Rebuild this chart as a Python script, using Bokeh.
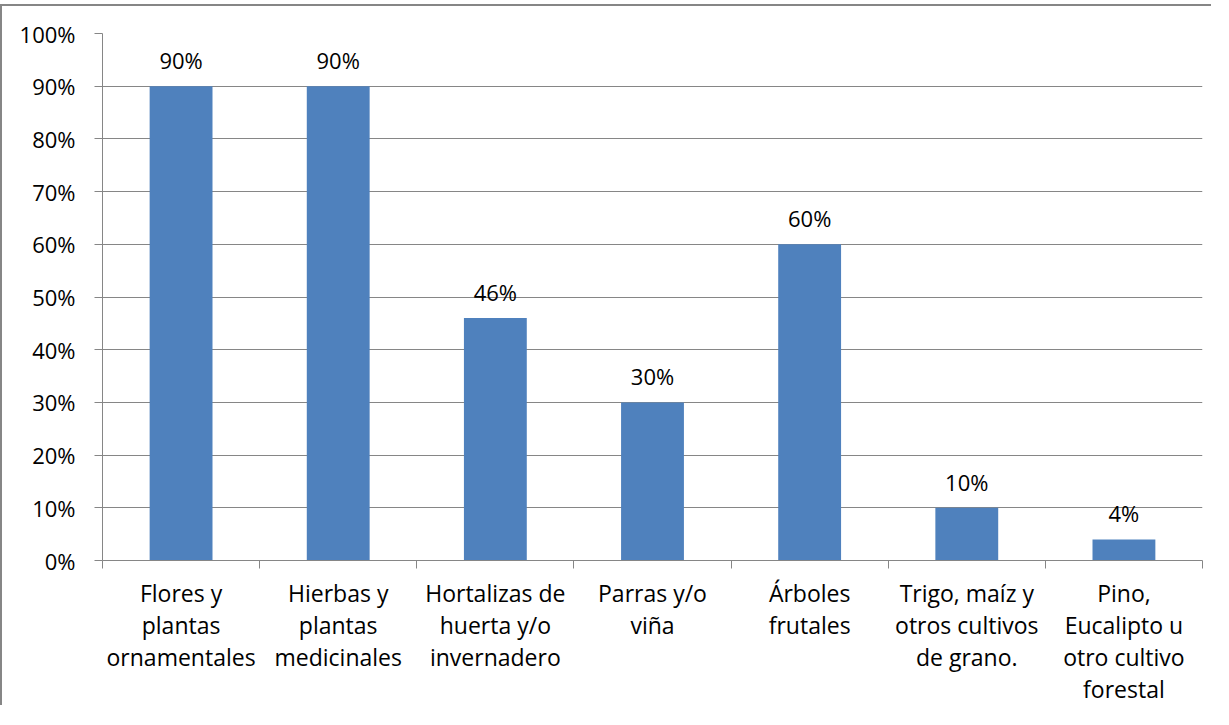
from bokeh.plotting import figure
from bokeh.models import FixedTicker, NumeralTickFormatter, ColumnDataSource, Range1d
from bokeh.core.properties import value
from bokeh.embed import file_html
from bokeh.resources import INLINE

categories = [
    "Flores y\nplantas\nornamentales",
    "Hierbas y\nplantas\nmedicinales",
    "Hortalizas de\nhuerta y/o\ninvernadero",
    "Parras y/o\nviña",
    "Árboles\nfrutales",
    "Trigo, maíz y\notros cultivos\nde grano.",
    "Pino,\nEucalipto u\notro cultivo\nforestal",
]
values = [0.90, 0.90, 0.46, 0.30, 0.60, 0.10, 0.04]
value_labels = ["90%", "90%", "46%", "30%", "60%", "10%", "4%"]
y_ticks = [0, 0.1, 0.2, 0.3, 0.4, 0.5, 0.6, 0.7, 0.8, 0.9, 1.0]

FONT = "Open Sans"
FS = "22px"
FSX = "23px"
GRAY = "#868686"

n = len(categories)
xpos = [i + 0.5 for i in range(n)]
src = ColumnDataSource(dict(x=xpos, top=values, lab=value_labels))

p = figure(width=1211, height=701, output_backend="svg", toolbar_location=None,
           x_range=Range1d(0, n), y_range=Range1d(0, 1),
           min_border_left=100, min_border_right=11, min_border_top=27, min_border_bottom=147)
p.outline_line_color = None
p.styles = {"border-left": f"2px solid {GRAY}", "border-top": f"2px solid {GRAY}", "margin-top": "4px"}

p.vbar(x="x", top="top", width=0.4, bottom=0, source=src, fill_color="#4F81BD", line_color=None)
p.text(x="x", y="top", text="lab", source=src, text_align="center", text_baseline="alphabetic",
       y_offset=-26, text_font=value(FONT), text_font_size=FS, text_color="black")

# x axis
p.xaxis.ticker = FixedTicker(ticks=xpos, minor_ticks=list(range(n + 1)))
p.xaxis.major_label_overrides = {x: c for x, c in zip(xpos, categories)}
p.xaxis.major_tick_out = 0
p.xaxis.major_tick_in = 0
p.xaxis.minor_tick_out = 8
p.xaxis.minor_tick_in = 0
p.xaxis.minor_tick_line_color = GRAY
p.xaxis.axis_line_color = GRAY
p.xaxis.major_label_standoff = 8
p.xaxis.major_label_text_font = FONT
p.xaxis.major_label_text_font_size = FSX
p.xaxis.major_label_text_color = "black"
p.xaxis.major_label_text_line_height = 1.0
p.xaxis.major_label_orientation = "horizontal"
p.xgrid.visible = False

# y axis
p.yaxis.ticker = FixedTicker(ticks=y_ticks)
p.yaxis.formatter = NumeralTickFormatter(format="0%")
p.yaxis.major_tick_out = 8
p.yaxis.major_tick_in = 0
p.yaxis.minor_tick_line_color = None
p.yaxis.axis_line_color = GRAY
p.yaxis.major_tick_line_color = GRAY
p.yaxis.major_label_standoff = 19
p.yaxis.major_label_text_font = FONT
p.yaxis.major_label_text_font_size = FS
p.yaxis.major_label_text_color = "black"
p.ygrid.ticker = FixedTicker(ticks=y_ticks)
p.ygrid.grid_line_color = GRAY
p.ygrid.grid_line_width = 1

open("out.html", "w").write(file_html(p, INLINE))
